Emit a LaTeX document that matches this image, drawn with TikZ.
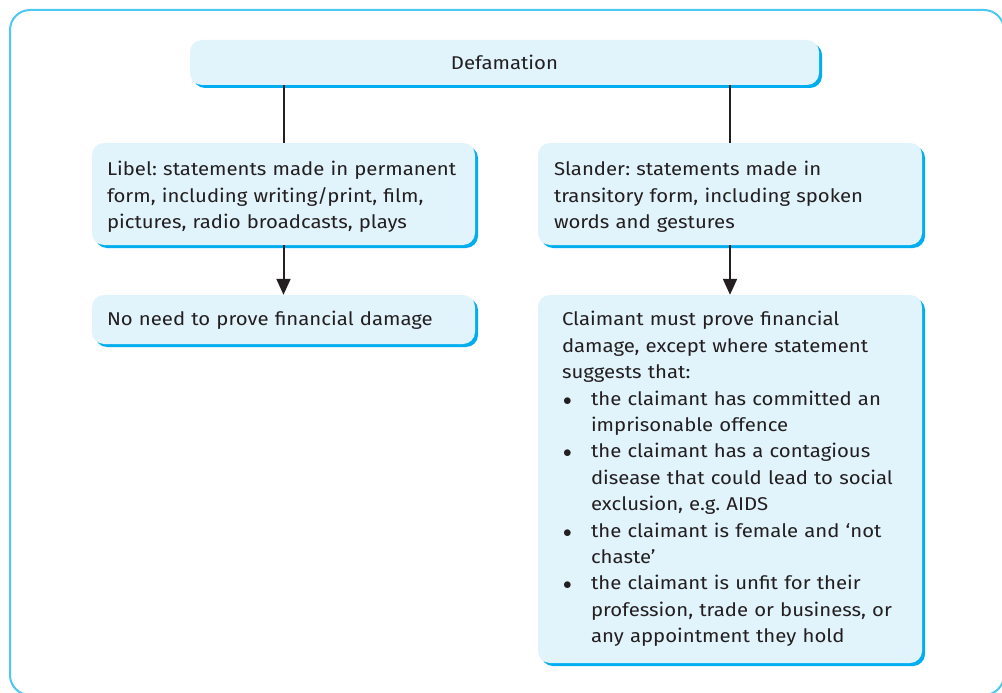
\documentclass[tikz,border=0pt]{standalone}
\usepackage{fontspec}
\setmainfont[FakeStretch=1.1]{Fira Sans}
\usetikzlibrary{arrows.meta,shadows}
\definecolor{boxfill}{HTML}{E1F3FB}
\definecolor{boxedge}{HTML}{00AEEF}
\definecolor{framecol}{HTML}{4CC8F2}
\definecolor{inkcol}{HTML}{231F20}
\newcommand{\claimitem}[1]{\par\hangindent=29pt\hangafter=1\noindent\makebox[29pt][l]{\hspace{1pt}$\bullet$}#1}
\newcommand{\topgap}{\rule{0pt}{20pt}}
\tikzset{
  lawbox/.style={fill=boxfill,rounded corners=12pt,inner ysep=0pt,
    drop shadow={shadow xshift=3pt,shadow yshift=-3pt,fill=boxedge,opacity=1},
    font=\fontsize{18.5}{26.4}\selectfont\frenchspacing,text=inkcol},
  link/.style={draw=inkcol,line width=2pt}
}
\begin{document}
\begin{tikzpicture}[>={Triangle[width=14pt,length=16pt]},x=1pt,y=-1pt]
		\useasboundingbox (0,0) rectangle (1002,693);
		\draw[framecol,line width=2pt,rounded corners=20pt] (10,10) rectangle (1004,695);
		% top of the chart
		\node[lawbox,minimum width=629pt,minimum height=45pt,align=center] (defam) at (504.5,62.5) {Defamation};
		\node[lawbox,inner xsep=15pt,text width=353pt,minimum height=102pt,align=left] (libel) at (283.5,194)
			{\topgap Libel: statements made in permanent\\form, including writing/print, film,\\pictures, radio broadcasts, plays};
		\node[lawbox,inner xsep=16pt,text width=352pt,minimum height=102pt,align=left] (slander) at (730,194)
			{\topgap Slander: statements made in\\transitory form, including spoken\\words and gestures};
		% consequences
		\node[lawbox,inner xsep=15pt,text width=353pt,minimum height=49pt,align=left] (noneed) at (283.5,319.5)
			{\rule{0pt}{16pt}No need to prove financial damage};
		\node[lawbox,inner xsep=24pt,text width=336pt,minimum height=368pt] (claim) at (730,479)
			{\noindent Claimant must prove financial\newline damage, except where statement\newline suggests that:
			\claimitem{the claimant has committed an\newline imprisonable offence}
			\claimitem{the claimant has a contagious\newline disease that could lead to social\newline exclusion, e.g. AIDS}
			\claimitem{the claimant is female and `not\newline chaste'}
			\claimitem{the claimant is unfit for their\newline profession, trade or business, or\newline any appointment they hold}\par};
		\draw[link] (libel.north) -- (libel.north |- defam.south);
		\draw[link] (slander.north) -- (slander.north |- defam.south);
		\draw[link,->] (libel.south) -- (noneed.north);
		\draw[link,->] (slander.south) -- (claim.north);
\end{tikzpicture}
\end{document}
